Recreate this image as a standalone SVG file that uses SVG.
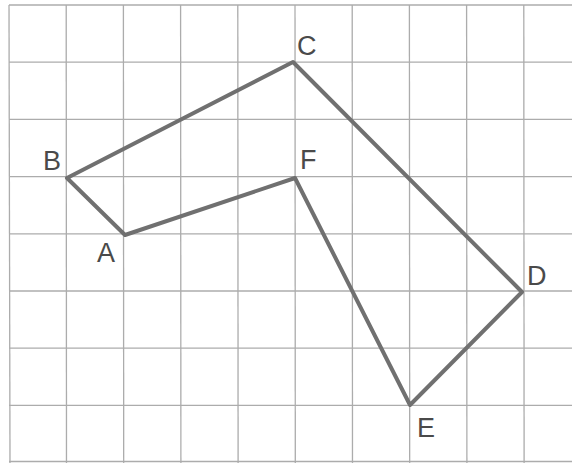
<svg xmlns="http://www.w3.org/2000/svg" width="572" height="463" viewBox="0 0 572 463">
<style>
.grid line{stroke:#acacac;stroke-width:1.3}
.edge{fill:none;stroke:#707070;stroke-width:4;stroke-linejoin:round;stroke-linecap:round}
.lbl{font-family:"Liberation Sans",Arial,sans-serif;font-size:27px;fill:#4a4a4a}
</style>
<rect width="572" height="463" fill="#ffffff"/>
<g id="grid" class="grid">
<line x1="9" y1="5" x2="572" y2="5"/>
<line x1="9" y1="62.2" x2="572" y2="62.2"/>
<line x1="9" y1="119.4" x2="572" y2="119.4"/>
<line x1="9" y1="176.6" x2="572" y2="176.6"/>
<line x1="9" y1="233.8" x2="572" y2="233.8"/>
<line x1="9" y1="291" x2="572" y2="291"/>
<line x1="9" y1="348.2" x2="572" y2="348.2"/>
<line x1="9" y1="405.4" x2="572" y2="405.4"/>
<line x1="9" y1="461.5" x2="572" y2="461.5"/>
<line x1="9" y1="5" x2="10" y2="463"/>
<line x1="66.2" y1="5" x2="66.5" y2="463"/>
<line x1="123.4" y1="5" x2="123.7" y2="463"/>
<line x1="180.6" y1="5" x2="180.9" y2="463"/>
<line x1="237.8" y1="5" x2="238.1" y2="463"/>
<line x1="295" y1="5" x2="295.3" y2="463"/>
<line x1="352.2" y1="5" x2="352.5" y2="463"/>
<line x1="409.4" y1="5" x2="409.7" y2="463"/>
<line x1="466.6" y1="5" x2="466.9" y2="463"/>
<line x1="523.8" y1="5" x2="524.1" y2="463"/>
</g>
<g id="connectors">
<polygon class="edge" points="125,235 67,178 293,62 522,292 410,405 295,178"/>
</g>
<g id="node-A"><text class="lbl" x="97" y="262">A</text></g>
<g id="node-B"><text class="lbl" x="43" y="170">B</text></g>
<g id="node-C"><text class="lbl" x="297" y="55">C</text></g>
<g id="node-D"><text class="lbl" x="527" y="285">D</text></g>
<g id="node-E"><text class="lbl" x="417" y="437">E</text></g>
<g id="node-F"><text class="lbl" x="300" y="169">F</text></g>
</svg>
